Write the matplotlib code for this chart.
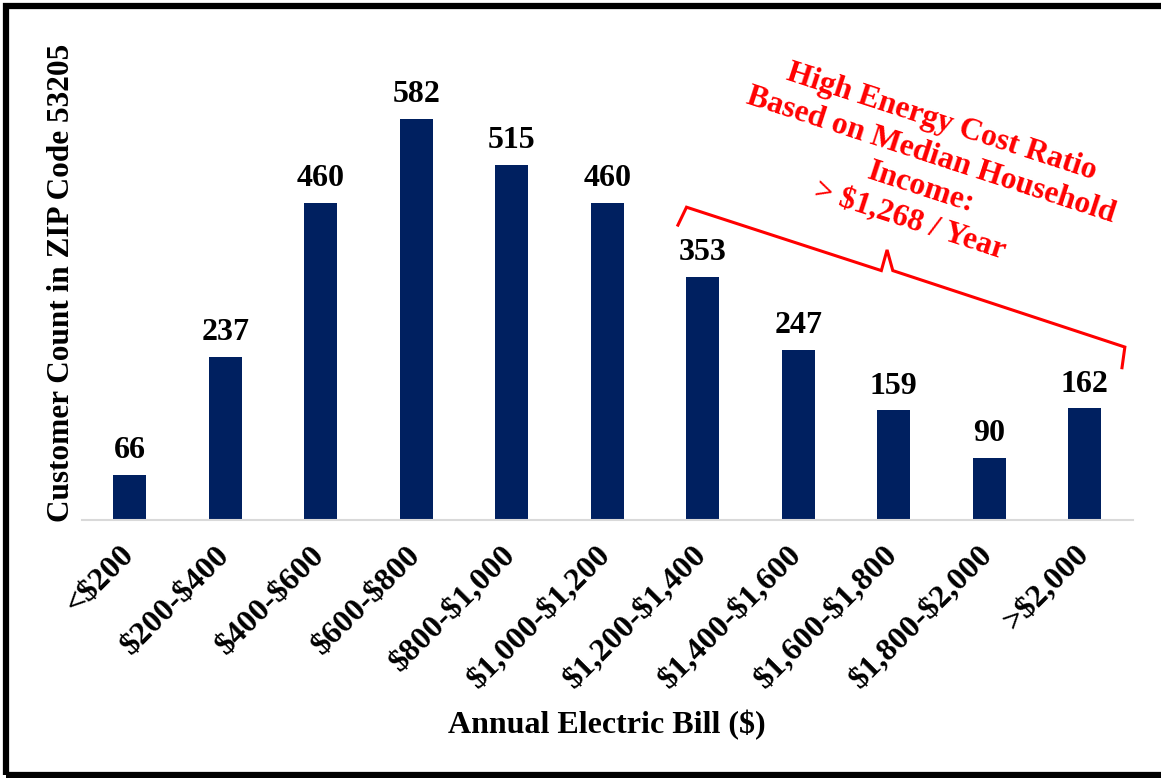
import matplotlib.pyplot as plt
import matplotlib.patches as patches
from matplotlib.lines import Line2D
import numpy as np

# data
bins = ['<$200', '$200-$400', '$400-$600', '$600-$800', '$800-$1,000',
        '$1,000-$1,200', '$1,200-$1,400', '$1,400-$1,600', '$1,600-$1,800',
        '$1,800-$2,000', '>$2,000']
counts = [66, 237, 460, 582, 515, 460, 353, 247, 159, 90, 162]

note_text = 'High Energy Cost Ratio\nBased on Median Household\nIncome:\n> $1,268 / Year'

W, H = 1161, 778
plt.rcParams['font.family'] = ['Liberation Serif', 'DejaVu Serif']
plt.rcParams['font.weight'] = 'bold'
plt.rcParams['text.parse_math'] = False

fig = plt.figure(figsize=(W / 100, H / 100), dpi=100)
ax = fig.add_axes([82 / W, 1 - 520 / H, (1132.5 - 82) / W, 460 / H])

x = np.arange(len(bins))
bars = ax.bar(x, counts, width=0.35, color='#002060')
for b, v in zip(bars, counts):
    ax.annotate(str(v), (b.get_x() + b.get_width() / 2, v), xytext=(0, 7),
                textcoords='offset points', ha='center', va='bottom',
                fontsize=23, fontweight='bold')

ax.set_xlim(-0.5, len(bins) - 0.5)
ax.set_ylim(0, 460 / 0.689)
ax.set_xticks(x)
ax.set_xticklabels(bins, rotation=45, ha='right', va='center',
                   rotation_mode='anchor', fontsize=23.3, fontweight='bold')
ax.tick_params(axis='x', length=0, pad=22)
ax.set_yticks([])
for s in ['top', 'right', 'left']:
    ax.spines[s].set_visible(False)
ax.spines['bottom'].set_color('#D9D9D9')
ax.spines['bottom'].set_linewidth(1.5)

fig.text(62 / W, 1 - 283 / H, 'Customer Count in ZIP Code 53205', rotation=90,
         ha='center', va='center', fontsize=22.5, fontweight='bold')
fig.text(607 / W, 1 - 725 / H, 'Annual Electric Bill ($)', ha='center',
         va='center', fontsize=23, fontweight='bold')

# red note and brace over the high-cost bins
fig.text(926 / W, 1 - 172 / H, note_text, rotation=-18, ha='center',
         va='center', multialignment='center', color='red', fontsize=22.8,
         fontweight='bold', linespacing=1.25, rotation_mode='anchor')
bx = [5.74, 5.83, 7.87, 7.93, 7.99, 10.42, 10.39]
by = [428, 454, 362, 392, 362, 251, 221]
ax.add_line(Line2D(bx, by, color='red', lw=2.2, clip_on=False,
                   solid_joinstyle='miter'))

# black frame
fig.patches.append(patches.Rectangle((6 / W, 3 / H), 1.05, 1 - 9 / H,
                                     transform=fig.transFigure, fill=False,
                                     edgecolor='black', lw=4.5))

fig.savefig('out.png', dpi=100)
